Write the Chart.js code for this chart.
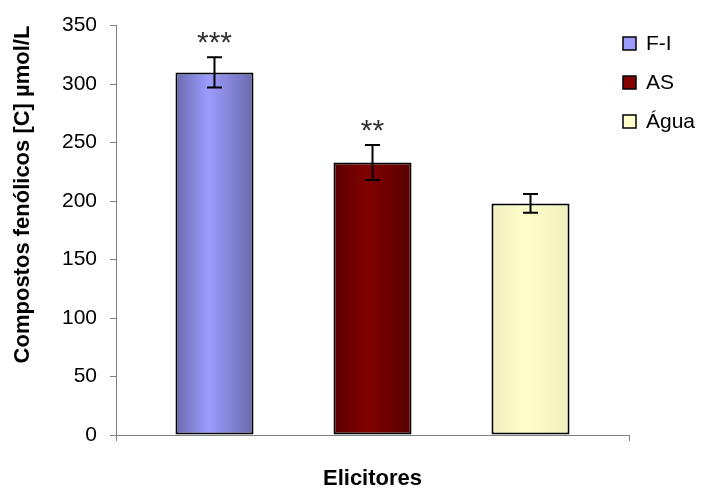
<!DOCTYPE html>
<html>
<head>
<meta charset="utf-8">
<script src="https://cdn.jsdelivr.net/npm/chart.js@4"></script>
<style>
    body { margin: 0; background: #fff; }
    canvas { display: block; }
</style>
</head>
<body>
<canvas id="chart" width="701" height="492"></canvas>
<script>
// --- Data ---
const categories = ['F-I', 'AS', 'Água'];
const values = [310, 233, 198];
const errors = [13, 15, 8];
const significance = ['***', '**', ''];
const yMin = 0;
const yMax = 350;
const yStep = 50;

// --- Styles ---
const edgeColors = ['#6a6aae', '#5a0000', '#efefbf'];
const centerColors = ['#9c9cff', '#820000', '#ffffcc'];
const FONT = '"Liberation Sans", Arial, sans-serif';

document.addEventListener('DOMContentLoaded', () => {
    Chart.defaults.font.family = FONT;
    Chart.defaults.color = '#000';

    // horizontal shading on each bar, dark edges and light middle
    const barGradient = {
        id: 'barGradient',
        beforeDatasetsDraw(chart) {
            const c = chart.ctx;
            chart.data.datasets.forEach((ds, i) => {
                chart.getDatasetMeta(i).data.forEach(bar => {
                    const left = bar.x - bar.width / 2;
                    const g = c.createLinearGradient(left, 0, left + bar.width, 0);
                    g.addColorStop(0, edgeColors[i]);
                    g.addColorStop(0.42, centerColors[i]);
                    g.addColorStop(1, edgeColors[i]);
                    bar.options.backgroundColor = g;
                });
            });
        }
    };

    // error bars + significance marks
    const errorBars = {
        id: 'errorBars',
        afterDatasetsDraw(chart) {
            const c = chart.ctx;
            const y = chart.scales.y;
            c.save();
            c.strokeStyle = '#000';
            c.lineWidth = 2;
            chart.data.datasets.forEach((ds, i) => {
                const bar = chart.getDatasetMeta(i).data[0];
                const top = y.getPixelForValue(values[i] + errors[i]);
                const bottom = y.getPixelForValue(values[i] - errors[i]);
                c.beginPath();
                c.moveTo(bar.x, top);
                c.lineTo(bar.x, bottom);
                c.moveTo(bar.x - 7.5, top);
                c.lineTo(bar.x + 7.5, top);
                c.moveTo(bar.x - 7.5, bottom);
                c.lineTo(bar.x + 7.5, bottom);
                c.stroke();

                if (significance[i]) {
                    c.fillStyle = '#333';
                    c.font = '30px ' + FONT;
                    c.textAlign = 'center';
                    c.textBaseline = 'alphabetic';
                    c.fillText(significance[i], bar.x, top - 5);
                }
            });
            c.restore();
        }
    };

    // legend on the right, over the end of the plot area like the original
    const sideLegend = {
        id: 'sideLegend',
        afterDraw(chart) {
            const c = chart.ctx;
            c.save();
            c.font = '21px ' + FONT;
            c.textBaseline = 'middle';
            c.textAlign = 'left';
            chart.data.datasets.forEach((ds, i) => {
                const cy = 43.5 + i * 39;
                c.fillStyle = centerColors[i];
                c.fillRect(623, cy - 6.5, 13, 13);
                c.strokeStyle = '#000';
                c.lineWidth = 1.5;
                c.strokeRect(623, cy - 6.5, 13, 13);
                c.fillStyle = '#000';
                c.fillText(ds.label, 646, cy + 1);
            });
            c.restore();
        }
    };

    const ctx = document.getElementById('chart').getContext('2d');
    new Chart(ctx, {
        type: 'bar',
        data: {
            labels: [''],
            datasets: categories.map((name, i) => ({
                label: name,
                data: [values[i]],
                backgroundColor: centerColors[i],
                borderColor: '#000',
                borderWidth: 2,
                borderSkipped: false
            }))
        },
        options: {
            responsive: false,
            animation: false,
            layout: { padding: { top: 24, right: 72, left: 0, bottom: 0 } },
            datasets: { bar: { categoryPercentage: 0.924, barPercentage: 0.494 } },
            plugins: {
                legend: { display: false },
                tooltip: { enabled: false }
            },
            scales: {
                x: {
                    grid: { drawOnChartArea: false, drawTicks: true, tickLength: 6, color: '#808080' },
                    border: { color: '#808080', width: 1 },
                    ticks: { display: false },
                    title: {
                        display: true,
                        text: 'Elicitores',
                        font: { size: 22, weight: 'bold' },
                        color: '#000',
                        padding: { top: 0, bottom: 0 }
                    },
                    afterFit: s => { s.height = 57; }
                },
                y: {
                    min: yMin,
                    max: yMax,
                    ticks: { stepSize: yStep, font: { size: 21 }, color: '#000', padding: 13 },
                    grid: { drawOnChartArea: false, drawTicks: true, tickLength: 6, color: '#808080' },
                    border: { color: '#808080', width: 1 },
                    title: {
                        display: true,
                        text: 'Compostos fenólicos [C] µmol/L',
                        align: 'end',
                        font: { size: 22, weight: 'bold' },
                        color: '#000',
                        padding: { top: 10, bottom: 0 }
                    },
                    afterFit: s => { s.width = 116; }
                }
            }
        },
        plugins: [barGradient, errorBars, sideLegend]
    });
});
</script>
</body>
</html>
